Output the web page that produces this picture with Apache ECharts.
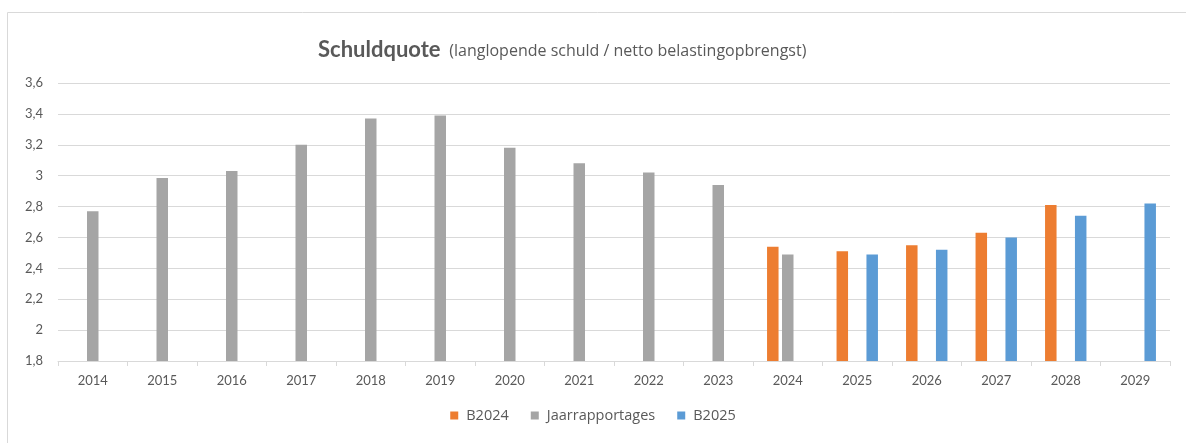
<!DOCTYPE html>
<html>
<head>
<meta charset="utf-8">
<script src="https://cdn.jsdelivr.net/npm/echarts@6/dist/echarts.min.js"></script>
<style>
  html, body { margin: 0; padding: 0; background: #fff; }
  #chart { width: 1186px; height: 443px; }
</style>
</head>
<body>
<div id="chart"></div>
<script>
// jaren op de x-as
let years = ['2014', '2015', '2016', '2017', '2018', '2019', '2020', '2021',
             '2022', '2023', '2024', '2025', '2026', '2027', '2028', '2029'];

// schuldquote per reeks (null = geen waarde)
let b2024 = [null, null, null, null, null, null, null, null, null, null,
             2.54, 2.51, 2.55, 2.63, 2.81, null];
let jaarrapportages = [2.77, 2.985, 3.03, 3.20, 3.37, 3.39, 3.18, 3.08,
                       3.02, 2.94, 2.49, null, null, null, null, null];
let b2025 = [null, null, null, null, null, null, null, null, null, null,
             null, 2.49, 2.52, 2.60, 2.74, 2.82];

let yTicks = [1.8, 2.0, 2.2, 2.4, 2.6, 2.8, 3.0, 3.2, 3.4, 3.6];

let font = 'Lato, "Open Sans", sans-serif';
let font2 = '"Open Sans", Lato, sans-serif';
let textGrey = '#595959';

var dom = document.getElementById('chart');
var myChart = echarts.init(dom);

var option = {
    animation: false,
    textStyle: { fontFamily: font },
    graphic: [{
        type: 'rect',
        shape: { x: 7.5, y: 12.5, width: 1300, height: 600 },
        style: { fill: 'none', stroke: '#d9d9d9', lineWidth: 1 },
        silent: true
    }],
    title: {
        text: '{a|Schuldquote}  {b|(langlopende schuld / netto belastingopbrengst)}',
        left: 313,
        top: 34,
        textStyle: {
            rich: {
                a: { fontSize: 22, fontWeight: 'bold', color: textGrey, fontFamily: font },
                b: { fontSize: 16, fontWeight: 'normal', color: textGrey, fontFamily: font2, padding: [2, 0, 0, 0] }
            }
        }
    },
    legend: {
        bottom: 15,
        left: 'center',
        itemWidth: 8,
        itemHeight: 8,
        itemGap: 22,
        icon: 'rect',
        textStyle: { fontSize: 14.5, color: textGrey, fontFamily: font2, padding: [0, 0, 0, 3] },
        data: ['B2024', 'Jaarrapportages', 'B2025']
    },
    grid: {
        left: 58,
        right: 16,
        top: 83,
        bottom: 82,
        containLabel: false
    },
    xAxis: {
        type: 'category',
        data: years,
        axisLine: { lineStyle: { color: '#d9d9d9' } },
        axisTick: { show: true, alignWithLabel: false, length: 5, lineStyle: { color: '#d9d9d9' } },
        axisLabel: { color: textGrey, fontSize: 13, margin: 13 }
    },
    yAxis: {
        type: 'value',
        min: 1.8,
        max: 3.6,
        interval: 0.2,
        axisLine: { show: false },
        axisTick: { show: false },
        splitLine: { lineStyle: { color: '#d9d9d9' } },
        axisLabel: {
            color: textGrey,
            fontSize: 13,
            margin: 15,
            formatter: function (v) {
                let t = yTicks.find(x => Math.abs(x - v) < 1e-6);
                if (t === undefined) return '';
                return String(Math.round(t * 10) / 10).replace('.', ',');
            }
        }
    },
    series: [{
        name: 'B2024',
        type: 'bar',
        data: b2024,
        barWidth: 11.5,
        barGap: '30%',
        itemStyle: { color: '#ed7d31' }
    }, {
        name: 'Jaarrapportages',
        type: 'bar',
        data: jaarrapportages,
        barWidth: 11.5,
        barGap: '30%',
        itemStyle: { color: '#a5a5a5' }
    }, {
        name: 'B2025',
        type: 'bar',
        data: b2025,
        barWidth: 11.5,
        barGap: '30%',
        itemStyle: { color: '#5b9bd5' }
    }]
};

if (option && typeof option === 'object') {
    myChart.setOption(option);
}
</script>
</body>
</html>
